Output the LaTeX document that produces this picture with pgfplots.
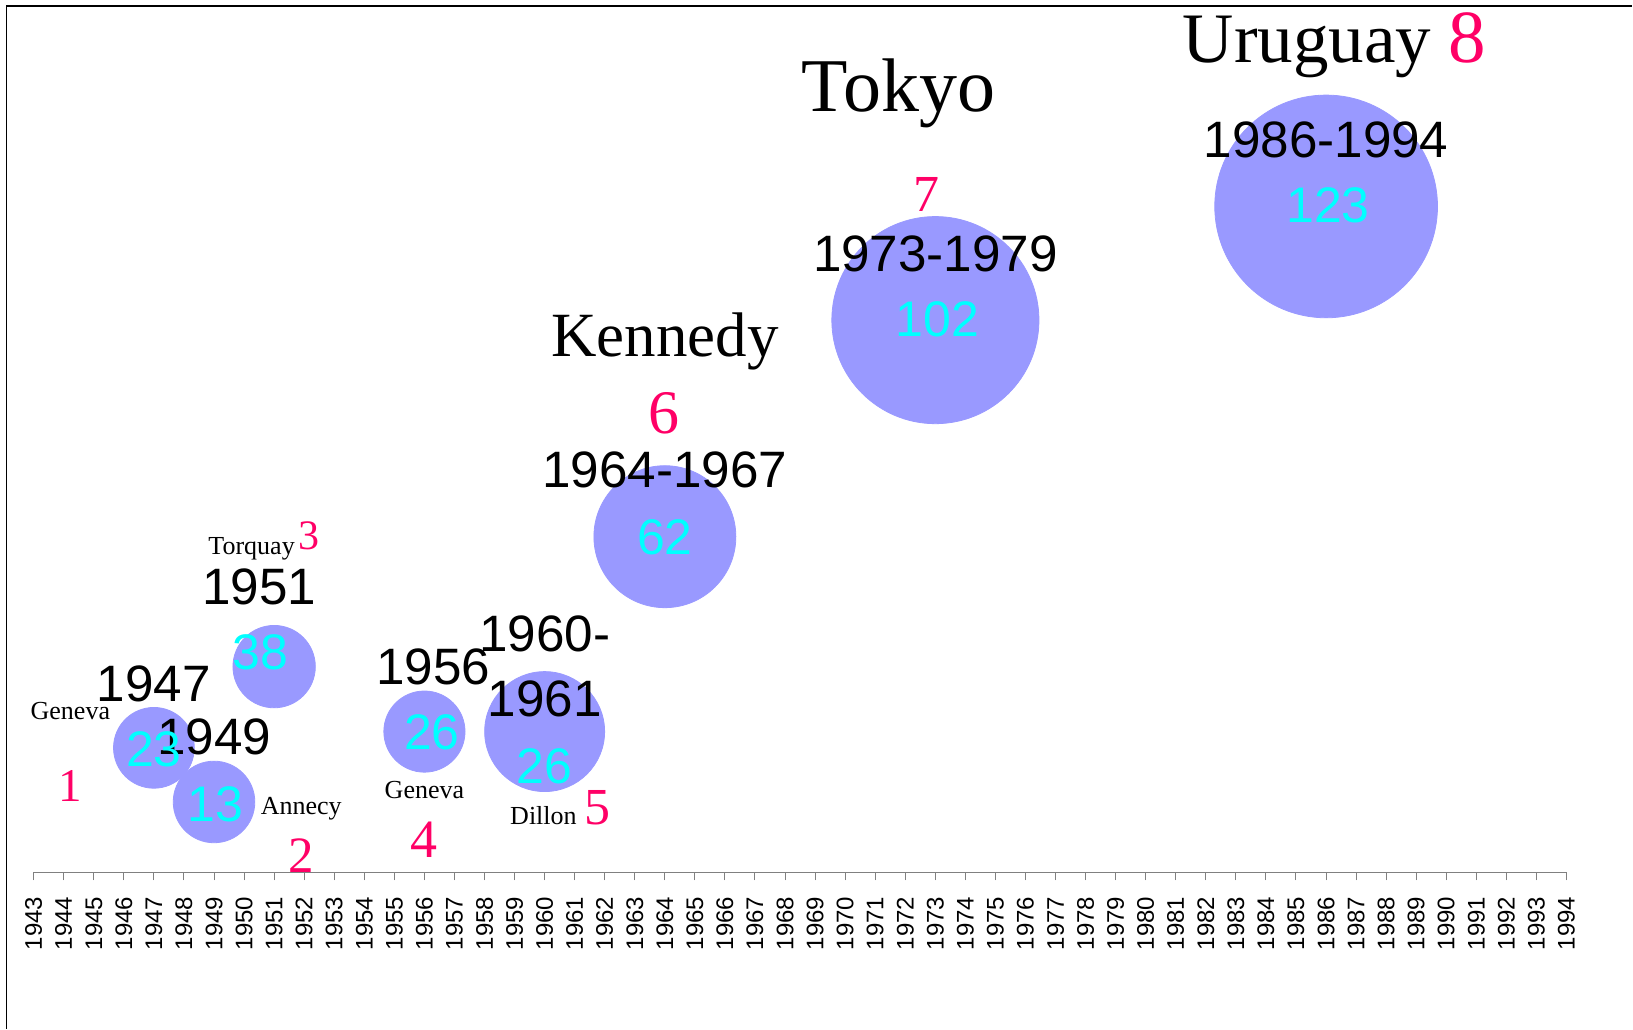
\documentclass[border=0pt]{standalone}
\usepackage{fontspec}
\setmainfont{Liberation Serif}
\newfontfamily\arial{Liberation Sans}
\usepackage{pgfplots}
\pgfplotsset{compat=1.18}
\usepackage{pgfplotstable}
\definecolor{bubble}{HTML}{9999FF}
\definecolor{cyanT}{HTML}{00FFFF}
\definecolor{pinkN}{HTML}{FF0066}

% year, number of countries, bubble radius (pt)
\pgfplotstableread{
year n r
1947 23 20.2
1949 13 20.4
1951 38 20.6
1956 26 20.3
1960 26 30.0
1964 62 35.5
1973 102 51.8
1986 123 55.7
}\rounds

\begin{document}
\begin{tikzpicture}[
  yr/.style={anchor=base, inner sep=0pt, font=\arial\fontsize{25.6}{30}\selectfont, text=black},
  cy/.style={anchor=base, inner sep=0pt, font=\arial\fontsize{25}{30}\selectfont, text=cyanT},
  sm/.style={anchor=base, inner sep=0pt, font=\fontsize{13}{15}\selectfont, text=black},
  pk/.style={anchor=base, inner sep=0pt, text=pinkN},
]
\path (0,0) rectangle (816.5pt,514.5pt);
\draw[line width=0.65pt] (3.35pt,0pt) -- (3.35pt,511.5pt) -- (816.5pt,511.5pt);
\begin{axis}[
  set layers,
  at={(16.85pt,78.15pt)}, anchor=south west,
  scale only axis, width=766.75pt, height=433.28pt,
  xmin=1943, xmax=1994, ymin=0, ymax=160,
  axis x line=bottom, axis y line=none,
  x axis line style={-, draw=gray, line width=0.65pt},
  xtick={1943,1944,...,1994},
  tick align=outside, major tick length=4pt,
  tick style={draw=gray, line width=0.5pt},
  xticklabel shift=8pt,
  xticklabel style={rotate=90, anchor=east, inner sep=0pt, font=\arial\fontsize{12}{13}\selectfont},
  /pgf/number format/1000 sep={},
  /pgf/number format/fixed,
  /pgf/number format/precision=0,
  /pgf/number format/assume math mode=true,
  clip=false,
]
\addplot[scatter, only marks, mark=*,
  scatter/use mapped color={draw=bubble, fill=bubble},
  visualization depends on={\thisrow{r} \as \rad},
  scatter/@pre marker code/.append style={/tikz/mark size=\rad}]
  table[x=year, y=n] {\rounds};

\begin{pgfonlayer}{axis foreground}
% period labels
\node[yr] at (axis cs:1986.0,132.1) {1986-1994};
\node[yr] at (axis cs:1973.0,111.0) {1973-1979};
\node[yr] at (axis cs:1964.0,71.0) {1964-1967};
\node[yr] at (axis cs:1950.5,49.4) {1951};
\node[yr] at (axis cs:1947.0,31.6) {1947};
\node[yr] at (axis cs:1949.0,21.7) {1949};
\node[yr] at (axis cs:1956.3,34.7) {1956};
\node[yr] at (axis cs:1960.0,40.8) {1960-};
\node[yr] at (axis cs:1960.0,28.8) {1961};

% number of countries
\node[cy] at (axis cs:1986.06,120.0) {123};
\node[cy] at (axis cs:1973.06,99.0) {102};
\node[cy] at (axis cs:1964.0,58.7) {62};
\node[cy] at (axis cs:1950.54,37.4) {38};
\node[cy] at (axis cs:1947.0,19.6) {23};
\node[cy] at (axis cs:1949.05,9.4) {13};
\node[cy] at (axis cs:1956.25,22.7) {26};
\node[cy] at (axis cs:1960.0,16.5) {26};

% round names
\node[anchor=base, inner sep=0pt, font=\fontsize{35.5}{42}\selectfont] at (axis cs:1986.28,149.5) {Uruguay {\color{pinkN}\fontsize{37.5}{42}\selectfont 8}};
\node[anchor=base, inner sep=0pt, font=\fontsize{38}{44}\selectfont] at (axis cs:1971.77,140.5) {Tokyo};
\node[anchor=base, inner sep=0pt, font=\fontsize{31.5}{38}\selectfont] at (axis cs:1964.0,95.3) {Kennedy};
\node[pk, font=\fontsize{26}{30}\selectfont] at (axis cs:1972.7,122.0) {7};
\node[pk, font=\fontsize{31}{36}\selectfont] at (axis cs:1963.97,81.1) {6};
\node[sm] at (axis cs:1950.25,58.8) {Torquay};
\node[pk, font=\fontsize{21}{25}\selectfont] at (axis cs:1952.16,59.6) {3};
\node[sm] at (axis cs:1944.22,28.2) {Geneva};
\node[pk, font=\fontsize{23.5}{27}\selectfont] at (axis cs:1944.22,13.1) {1};
\node[sm] at (axis cs:1951.9,10.65) {Annecy};
\node[pk, font=\fontsize{25.5}{30}\selectfont] at (axis cs:1951.9,0) {2};
\node[sm] at (axis cs:1956.0,13.55) {Geneva};
\node[pk, font=\fontsize{27}{31}\selectfont] at (axis cs:1955.97,2.66) {4};
\node[sm] at (axis cs:1959.96,8.8) {Dillon};
\node[pk, font=\fontsize{26}{30}\selectfont] at (axis cs:1961.77,8.8) {5};
\end{pgfonlayer}
\end{axis}
\end{tikzpicture}
\end{document}
